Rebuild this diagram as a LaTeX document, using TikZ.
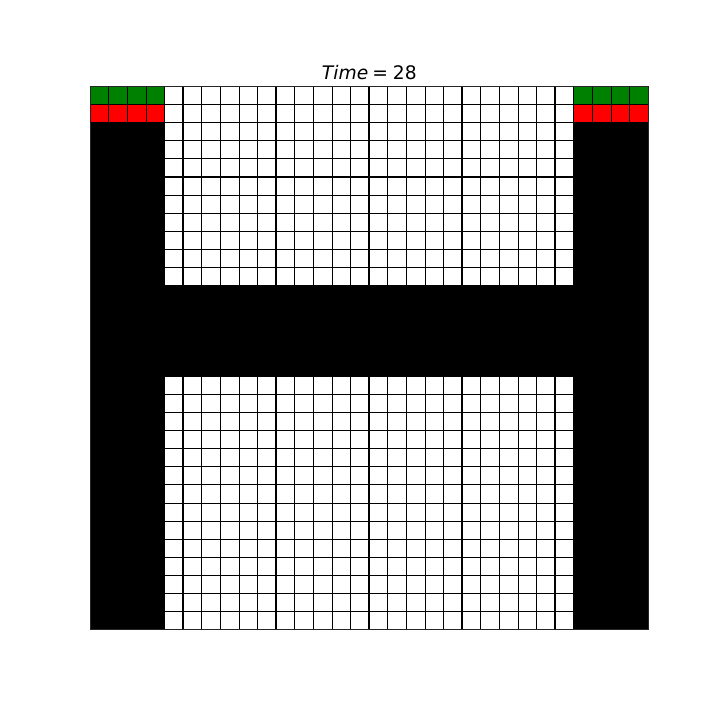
\documentclass[tikz,border=0pt]{standalone}
\usepackage{fontspec}
\setmainfont{DejaVu Sans}
\usepackage{xcolor}
\usepackage{tikz}
\usetikzlibrary{calc}
\definecolor{mplgreen}{HTML}{008000}
\definecolor{mplred}{HTML}{FF0000}
\tikzset{
  titletext/.style={
    font=\fontsize{13.5}{16}\selectfont, anchor=base, inner sep=0pt
  },
  wallcell/.style={fill=black},
  goalcell/.style={fill=mplgreen},
  startcell/.style={fill=mplred},
  cellline/.style={draw=black, line width=0.72pt},
  blockline/.style={draw=black, line width=1.5pt},
  frameline/.style={draw=black!85, line width=0.8pt},
}

\begin{document}
\begin{tikzpicture}[x=0.254mm, y=-0.254mm]
\useasboundingbox (0,0) rectangle (720,720);
\node[titletext] (title) at (369.3,79)
  {\textit{Time}\hspace{0.22em}=\hspace{0.26em}28};
\begin{scope}[shift={(90.3,86.3)}, x=4.7244mm, y=-4.6025mm]
% walls
\fill[wallcell] (0,2) rectangle (4,30);
\fill[wallcell] (26,2) rectangle (30,30);
\fill[wallcell] (0,11) rectangle (30,16);
% top corners
\foreach \c in {0,26} {
  \fill[goalcell] (\c,0) rectangle ++(4,1);
  \fill[startcell] (\c,1) rectangle ++(4,1);
}
% grid
\foreach \i in {1,...,29} {
  \draw[cellline] (\i,0) -- (\i,30);
  \draw[cellline] (0,\i) -- (30,\i);
}
\foreach \i in {5,10,...,25}
  \draw[blockline] (\i,0) -- (\i,30);
\draw[blockline] (4,5) -- (26,5);
\draw[frameline] (0,0) rectangle (30,30);
\end{scope}
\end{tikzpicture}
\end{document}
